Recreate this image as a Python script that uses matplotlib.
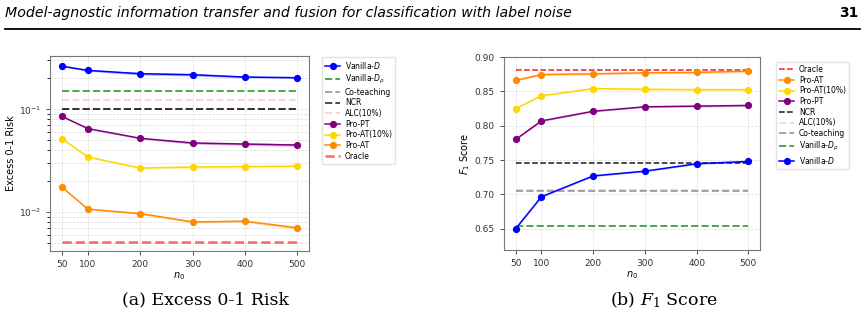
"""
Two-panel figure: excess 0-1 risk and F1 score versus n0, page header and captions.
"""

import matplotlib
matplotlib.use('Agg')
import matplotlib.pyplot as plt
import numpy as np

plt.rcParams['mathtext.fontset'] = 'dejavusans'

# data
n0 = [50, 100, 200, 300, 400, 500]

# (a) excess 0-1 risk
risk_vanilla_d = [0.263, 0.239, 0.222, 0.217, 0.206, 0.203]
risk_pro_pt = [0.0855, 0.065, 0.0523, 0.0471, 0.046, 0.045]
risk_pro_at10 = [0.0519, 0.0344, 0.0269, 0.0275, 0.0278, 0.028]
risk_pro_at = [0.0176, 0.0107, 0.0097, 0.00805, 0.00818, 0.00705]
risk_vanilla_d_std = [0.004, 0.005, 0.006, 0.006, 0.004, 0.004]
risk_pro_pt_std = [0.0008, 0.0008, 0.0009, 0.0012, 0.0012, 0.0012]
risk_pro_at10_std = [0.0005, 0.0005, 0.0005, 0.0008, 0.0008, 0.0009]
risk_pro_at_std = [0.0002, 0.0002, 0.0002, 0.0002, 0.0002, 0.0002]
risk_vanilla_drho = 0.151
risk_co_teaching = 0.101
risk_ncr = 0.100
risk_alc10 = 0.124
risk_oracle = 0.0051

# (b) F1 score
f1_oracle = 0.881
f1_pro_at = [0.866, 0.8745, 0.8755, 0.877, 0.8775, 0.8795]
f1_pro_at10 = [0.825, 0.8435, 0.854, 0.853, 0.8525, 0.8525]
f1_pro_pt = [0.780, 0.807, 0.821, 0.8275, 0.8285, 0.8295]
f1_vanilla_d = [0.650, 0.6966, 0.7269, 0.7338, 0.7446, 0.748]
f1_pro_at_std = [0.001, 0.0015, 0.0015, 0.0015, 0.0015, 0.0015]
f1_pro_at10_std = [0.001, 0.001, 0.001, 0.0015, 0.0015, 0.0015]
f1_pro_pt_std = [0.001, 0.001, 0.001, 0.001, 0.0015, 0.0015]
f1_vanilla_d_std = [0.001, 0.001, 0.001, 0.001, 0.001, 0.001]
f1_ncr = 0.7455
f1_alc10 = 0.706
f1_co_teaching = 0.7045
f1_vanilla_drho = 0.6545

COLORS = {
    'Vanilla-D': 'blue',
    'Vanilla-Drho': 'green',
    'Co-teaching': 'gray',
    'NCR': 'black',
    'ALC(10%)': 'pink',
    'Pro-PT': 'purple',
    'Pro-AT(10%)': 'gold',
    'Pro-AT': 'darkorange',
    'Oracle': 'red',
}

LBL_VD = 'Vanilla-$D$'
LBL_VDR = r'Vanilla-$D_\rho$'

TICK_FS = 6.5
LEG_FS = 5.5


def curve(ax, y, std, key, label):
    y = np.array(y)
    std = np.array(std)
    ax.fill_between(n0, y - std, y + std, color=COLORS[key], alpha=0.3, lw=0)
    line, = ax.plot(n0, y, '-o', color=COLORS[key], lw=1.1, ms=4.2, label=label)
    return line


def hline(ax, y, key, label, lw=1.4, alpha=0.7):
    line, = ax.plot([n0[0], n0[-1]], [y, y], '--', color=COLORS[key],
                    lw=lw, alpha=alpha, label=label)
    return line


def style(ax):
    ax.set_xticks(n0)
    ax.tick_params(labelsize=TICK_FS, length=3, width=0.6, colors='#333333')
    for s in ax.spines.values():
        s.set_color('#777777')
        s.set_linewidth(0.8)
    ax.set_xlabel('$n_0$', fontsize=7, labelpad=1)


def legend(handles, x, y):
    fig.legend(handles=handles, loc='upper left', bbox_to_anchor=(x / 865, 1 - y / 317),
               fontsize=LEG_FS, handlelength=2.0, handletextpad=0.6, labelspacing=0.22,
               borderpad=0.4, borderaxespad=0, framealpha=0.8, fancybox=False,
               edgecolor='#dddddd')


fig = plt.figure(figsize=(8.65, 3.17), dpi=100)

# page header
fig.text(0.006, 0.958, 'Model-agnostic information transfer and fusion for classification with label noise',
         fontsize=10.2, style='italic', va='center')
fig.text(0.993, 0.958, '31', fontsize=10, fontweight='bold', ha='right', va='center')
fig.add_artist(plt.Line2D([0.006, 0.994], [0.908, 0.908], color='black', lw=1.3))

# (a)
ax1 = fig.add_axes([50 / 865, 66 / 317, 259 / 865, 195 / 317])
h = {}
h['vd'] = curve(ax1, risk_vanilla_d, risk_vanilla_d_std, 'Vanilla-D', LBL_VD)
h['vdr'] = hline(ax1, risk_vanilla_drho, 'Vanilla-Drho', LBL_VDR)
h['co'] = hline(ax1, risk_co_teaching, 'Co-teaching', 'Co-teaching')
h['ncr'] = hline(ax1, risk_ncr, 'NCR', 'NCR')
h['alc'] = hline(ax1, risk_alc10, 'ALC(10%)', 'ALC(10%)')
h['pt'] = curve(ax1, risk_pro_pt, risk_pro_pt_std, 'Pro-PT', 'Pro-PT')
h['at10'] = curve(ax1, risk_pro_at10, risk_pro_at10_std, 'Pro-AT(10%)', 'Pro-AT(10%)')
h['at'] = curve(ax1, risk_pro_at, risk_pro_at_std, 'Pro-AT', 'Pro-AT')
h['or'] = hline(ax1, risk_oracle, 'Oracle', 'Oracle', lw=1.8, alpha=0.6)
ax1.set_yscale('log')
ax1.set_ylim(0.0042, 0.33)
ax1.set_xlim(27.5, 522.5)
ax1.grid(True, which='both', ls='--', lw=0.5, color='#cccccc', alpha=0.7)
ax1.set_ylabel('Excess 0-1 Risk', fontsize=7, labelpad=2)
style(ax1)
legend([h[k] for k in ['vd', 'vdr', 'co', 'ncr', 'alc', 'pt', 'at10', 'at', 'or']], 322, 57)

# (b)
ax2 = fig.add_axes([504 / 865, 67 / 317, 256 / 865, 193 / 317])
g = {}
g['or'] = hline(ax2, f1_oracle, 'Oracle', 'Oracle', lw=1.1, alpha=0.9)
g['at'] = curve(ax2, f1_pro_at, f1_pro_at_std, 'Pro-AT', 'Pro-AT')
g['at10'] = curve(ax2, f1_pro_at10, f1_pro_at10_std, 'Pro-AT(10%)', 'Pro-AT(10%)')
g['pt'] = curve(ax2, f1_pro_pt, f1_pro_pt_std, 'Pro-PT', 'Pro-PT')
g['ncr'] = hline(ax2, f1_ncr, 'NCR', 'NCR', lw=1.1, alpha=0.9)
g['alc'] = hline(ax2, f1_alc10, 'ALC(10%)', 'ALC(10%)')
g['co'] = hline(ax2, f1_co_teaching, 'Co-teaching', 'Co-teaching')
g['vdr'] = hline(ax2, f1_vanilla_drho, 'Vanilla-Drho', LBL_VDR)
g['vd'] = curve(ax2, f1_vanilla_d, f1_vanilla_d_std, 'Vanilla-D', LBL_VD)
ax2.set_ylim(0.619, 0.90)
ax2.set_xlim(27.5, 522.5)
ax2.set_yticks([0.65, 0.70, 0.75, 0.80, 0.85, 0.90])
ax2.grid(True, ls='--', lw=0.5, color='#cccccc', alpha=0.7)
ax2.set_ylabel('$F_1$ Score', fontsize=7, labelpad=2)
style(ax2)
legend([g[k] for k in ['or', 'at', 'at10', 'pt', 'ncr', 'alc', 'co', 'vdr', 'vd']], 776, 62)

# captions
fig.text(206 / 865, 1 - 300 / 317, '(a) Excess 0-1 Risk', fontsize=12.5, family='DejaVu Serif',
         ha='center', va='center')
fig.text(664 / 865, 1 - 300 / 317, '(b) $F_1$ Score', fontsize=12.5, family='DejaVu Serif',
         ha='center', va='center', math_fontfamily='dejavuserif')

fig.savefig('out.png', dpi=100)
